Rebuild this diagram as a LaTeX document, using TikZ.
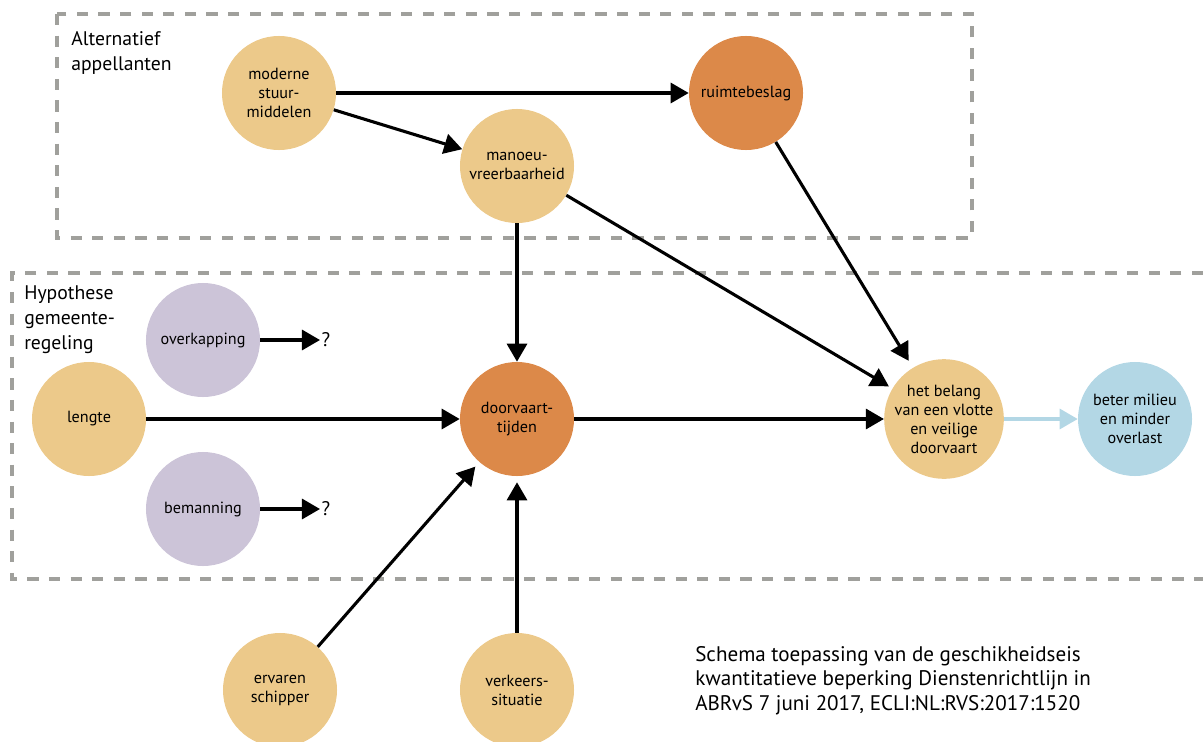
\documentclass[tikz,border=0pt]{standalone}
\usepackage{fontspec}
\setmainfont{PT Sans}
\usetikzlibrary{arrows.meta}
\definecolor{geel}{RGB}{236,201,138}
\definecolor{oranje}{RGB}{220,137,73}
\definecolor{paars}{RGB}{204,196,216}
\definecolor{blauw}{RGB}{179,215,229}
\definecolor{grijs}{RGB}{160,160,156}

\begin{document}
\begin{tikzpicture}[x=0.025cm, y=-0.025cm,
  bol/.style={circle, minimum size=2.85cm, inner sep=0pt, align=center,
    font=\fontsize{11.5}{13.5}\selectfont},
  pijl/.style={line width=2.2pt, -{Triangle[length=0.45cm,width=0.5cm]}},
  kader/.style={draw=grijs, line width=2.5pt, dash pattern=on 0.28cm off 0.26cm},
  kop/.style={align=left, anchor=north west, inner sep=0pt,
    font=\fontsize{14}{17.8}\selectfont},
  vraag/.style={anchor=west, inner sep=1pt, font=\fontsize{14}{16}\selectfont}]
\useasboundingbox (0,0) rectangle (1203,742);

% kaders
\draw[kader] (57,14) rectangle (972,238);
\draw[kader] (1203,273) -| (12,579) -- (1203,579);
\node[kop] (alt) at (71,31) {Alternatief\\appellanten};
\node[kop] (hyp) at (24,285) {Hypothese\\gemeente-\\regeling};

% bollen
\node[bol, fill=geel] (ms) at (279,93) {moderne\\stuur-\\middelen};
\node[bol, fill=oranje] (rb) at (746,93) {ruimtebeslag};
\node[bol, fill=geel] (mv) at (517,166) {manoeu-\\vreerbaarheid};
\node[bol, fill=paars] (ok) at (203,340) {overkapping};
\node[bol, fill=geel] (le) at (89,419) {lengte};
\node[bol, fill=oranje] (dt) at (517,419) {doorvaart-\\tijden};
\node[bol, fill=paars] (bm) at (203,509) {bemanning};
\node[bol, fill=geel] (hb) at (944,419) {het belang\\van een vlotte\\en veilige\\doorvaart};
\node[bol, fill=blauw] (bt) at (1135,419) {beter milieu\\en minder\\overlast};
\node[bol, fill=geel] (es) at (280,690) {ervaren\\schipper};
\node[bol, fill=geel] (vs) at (517,690) {verkeers-\\situatie};
\node[vraag] (q1) at (320,340) {?};
\node[vraag] (q2) at (320,509) {?};

% pijlen
\draw[pijl] (ms) -- (rb);
\draw[pijl] (ms) -- (mv);
\draw[pijl] (mv) -- (dt);
\draw[pijl, shorten >=0.1cm] (mv) -- (hb);
\draw[pijl, shorten >=0.2cm] (rb) -- (hb);
\draw[pijl] (le) -- (dt);
\draw[pijl] (dt) -- (hb);
\draw[pijl, shorten >=0.15cm] (es) -- (dt);
\draw[pijl, shorten >=0.15cm] (vs) -- (dt);
\draw[pijl, draw=blauw] (hb) -- (bt);
\draw[pijl] (ok) -- (q1);
\draw[pijl] (bm) -- (q2);

\node[align=left, anchor=north west, inner sep=0pt,
  font=\fontsize{15}{17.4}\selectfont] (bron) at (695,646)
  {Schema toepassing van de geschikheidseis\\kwantitatieve beperking Dienstenrichtlijn in\\ABRvS 7 juni 2017, ECLI:NL:RVS:2017:1520};
\end{tikzpicture}
\end{document}
